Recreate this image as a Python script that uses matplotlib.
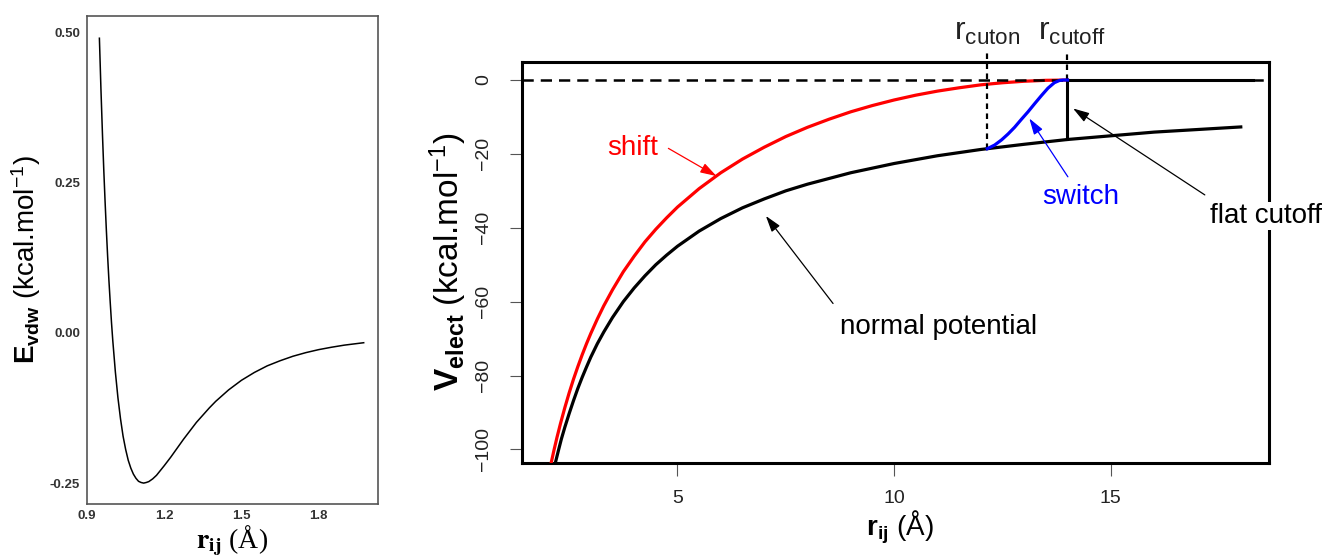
import matplotlib
matplotlib.use("Agg")
import matplotlib.pyplot as plt

plt.rcParams["font.family"] = ["Liberation Sans", "DejaVu Sans"]
plt.rcParams["mathtext.fontset"] = "custom"
plt.rcParams["mathtext.rm"] = "Liberation Sans"
plt.rcParams["mathtext.bf"] = "Liberation Sans:bold"
plt.rcParams["mathtext.it"] = "Liberation Sans:italic"

# --- left panel: van der Waals energy ---
r_vdw = [0.948, 0.954, 0.96, 0.965, 0.97, 0.975, 0.98, 0.985, 0.99, 0.995,
         1.00, 1.01, 1.02, 1.03, 1.04, 1.05, 1.06, 1.07, 1.08, 1.09, 1.10,
         1.11, 1.12, 1.13, 1.14, 1.155, 1.17, 1.185, 1.20, 1.225, 1.25,
         1.275, 1.30, 1.325, 1.35, 1.375, 1.40, 1.45, 1.50, 1.55, 1.60,
         1.65, 1.70, 1.75, 1.80, 1.85, 1.90, 1.975]
e_vdw = [0.49, 0.405, 0.329, 0.271, 0.219, 0.171, 0.127, 0.087, 0.051,
         0.017, -0.013, -0.065, -0.108, -0.143, -0.172, -0.194, -0.212,
         -0.225, -0.235, -0.242, -0.247, -0.249, -0.250, -0.249, -0.2475,
         -0.243, -0.237, -0.229, -0.221, -0.207, -0.192, -0.177, -0.163,
         -0.149, -0.137, -0.125, -0.114, -0.095, -0.079, -0.066, -0.055,
         -0.0465, -0.039, -0.033, -0.028, -0.024, -0.0205, -0.0165]

# --- right panel: electrostatics ---
r_norm = [2.18, 2.25, 2.32, 2.4, 2.5, 2.6, 2.7, 2.8, 2.9, 3.0, 3.15, 3.3,
          3.5, 3.75, 4.0, 4.25, 4.5, 4.75, 5.0, 5.5, 6.0, 6.5, 7.0, 7.5,
          8.0, 9.0, 10.0, 11.0, 12.0, 13.0, 14.0, 15.0, 16.0, 17.0, 18.0]
v_norm = [-103.7, -100.4, -97.2, -94.0, -90.3, -86.8, -83.5, -80.5, -77.7,
          -75.0, -71.4, -68.2, -64.3, -60.0, -56.3, -53.0, -50.0, -47.4,
          -45.0, -40.9, -37.5, -34.6, -32.2, -30.0, -28.2, -25.1, -22.6,
          -20.5, -18.8, -17.4, -16.1, -15.1, -14.1, -13.4, -12.7]

r_shift = [2.08, 2.15, 2.22, 2.3, 2.4, 2.5, 2.6, 2.7, 2.8, 2.9, 3.0, 3.15,
           3.3, 3.5, 3.75, 4.0, 4.25, 4.5, 4.75, 5.0, 5.5, 6.0, 6.5, 7.0,
           7.5, 8.0, 8.5, 9.0, 9.5, 10.0, 10.5, 11.0, 11.5, 12.0, 12.5,
           13.0, 13.5, 14.0]
v_shift = [-103.9, -100.2, -96.7, -93.0, -88.7, -84.7, -81.0, -77.6, -74.4,
           -71.4, -68.6, -64.7, -61.1, -56.8, -51.9, -47.7, -43.8, -40.4,
           -37.3, -34.4, -29.4, -25.1, -21.4, -18.2, -15.3, -12.8, -10.6,
           -8.6, -6.9, -5.4, -4.1, -3.0, -2.1, -1.3, -0.74, -0.33, -0.08,
           0.0]

r_switch = [12.15, 12.32, 12.48, 12.63, 12.78, 12.94, 13.09, 13.25, 13.40,
            13.55, 13.70, 13.82, 13.90, 14.0]
v_switch = [-18.6, -17.6, -16.2, -14.6, -12.8, -10.6, -8.6, -6.3, -4.2,
            -2.2, -0.7, -0.1, 0.0, 0.0]

r_cuton = 12.15
r_cutoff = 14.0
v_at_cuton = -18.6
v_at_cutoff = -16.1
r_flat_end = 18.28

fig = plt.figure(figsize=(13.29, 5.59), dpi=100)

# left panel
ax1 = fig.add_axes([0.0655, 0.0975, 0.2190, 0.8739])
ax1.plot(r_vdw, e_vdw, color="black", lw=1.1)
ax1.set_xlim(0.9, 2.031)
ax1.set_ylim(-0.2856, 0.527)
ax1.set_xticks([0.9, 1.2, 1.5, 1.8])
ax1.set_xticklabels(["0.9", "1.2", "1.5", "1.8"])
ax1.set_yticks([-0.25, 0.0, 0.25, 0.5])
ax1.set_yticklabels(["-0.25", "0.00", "0.25", "0.50"])
ax1.tick_params(length=0, labelsize=9.5, labelcolor="#333333")
ax1.tick_params(axis="y", pad=5)
ax1.tick_params(axis="x", pad=4)
for lab in ax1.get_xticklabels() + ax1.get_yticklabels():
    lab.set_fontweight("bold")
for sp in ax1.spines.values():
    sp.set_color("#555555")
    sp.set_linewidth(1.2)

fig.text(0.0196, 0.535, r"$\mathbf{E}_{\mathbf{vdw}}$ (kcal.mol$^{-1}$)",
         rotation=90, ha="center", va="center", fontsize=20)
fig.text(0.1746, 0.032, r"$\mathbf{r}_{\mathbf{ij}}$ (Å)", ha="center",
         va="center", fontsize=20, family="Liberation Serif",
         math_fontfamily="stix")

# right panel
ax2 = fig.add_axes([0.3925, 0.1710, 0.5623, 0.7186])
ax2.set_xlim(1.403, 18.65)
ax2.set_ylim(-103.8, 4.96)
ax2.plot(r_norm, v_norm, color="black", lw=2.3, zorder=3)
ax2.plot(r_shift, v_shift, color="#ff0000", lw=2.3, zorder=3)
ax2.axhline(0, color="black", lw=1.8, linestyle=(0, (4.5, 2.8)), zorder=4)
ax2.plot([r_cutoff, r_flat_end], [0, 0], color="black", lw=2.2, zorder=4)
ax2.plot([r_cutoff, r_cutoff], [v_at_cutoff, 0], color="black", lw=2.2,
         zorder=4)
ax2.plot(r_switch, v_switch, color="#0000ff", lw=2.3, zorder=5)
ax2.plot([r_cuton, r_cuton], [v_at_cuton, 8.1], color="black", lw=1.6,
         linestyle=(0, (2.5, 2.0)), clip_on=False, zorder=4)
ax2.plot([r_cutoff, r_cutoff], [0, 8.1], color="black", lw=1.6,
         linestyle=(0, (2.5, 2.0)), clip_on=False, zorder=4)

ax2.set_xticks([5, 10, 15])
ax2.set_yticks([0, -20, -40, -60, -80, -100])
ax2.tick_params(direction="out", length=9, width=0.8, color="#555555",
                labelsize=14, labelcolor="#222222")
ax2.tick_params(axis="x", pad=10)
ax2.tick_params(axis="y", pad=12)
for lab in ax2.get_yticklabels():
    lab.set_rotation(90)
    lab.set_va("center")
    lab.set_ha("right")
for sp in ax2.spines.values():
    sp.set_color("black")
    sp.set_linewidth(2.2)

fig.text(0.3371, 0.531, r"$\mathbf{V}_{\mathbf{elect}}$ (kcal.mol$^{-1}$)",
         rotation=90, ha="center", va="center", fontsize=24)
fig.text(0.6772, 0.057, r"$\mathbf{r}_{\mathbf{ij}}$ (Å)", ha="center",
         va="center", fontsize=20)

# cut-on / cut-off labels
ax2.text(r_cuton, 10.8, r"r$_{\mathrm{cuton}}$", ha="center", va="baseline",
         fontsize=23, color="#222222")
ax2.text(r_cutoff + 0.1, 10.8, r"r$_{\mathrm{cutoff}}$", ha="center",
         va="baseline", fontsize=23, color="#222222")

# annotations
arrow = dict(arrowstyle="-|>,head_length=0.7,head_width=0.22", lw=0.9,
             shrinkA=0, shrinkB=0, mutation_scale=14)
ax2.text(3.96, -18.4, "shift", color="#ff0000", fontsize=20, ha="center",
         va="center")
ax2.annotate("", xy=(5.90, -26.0), xytext=(4.79, -18.5),
             arrowprops=dict(arrow, color="#ff0000"))
ax2.text(11.03, -66.8, "normal potential", color="black", fontsize=20,
         ha="center", va="center")
ax2.annotate("", xy=(7.04, -36.8), xytext=(8.59, -60.5),
             arrowprops=dict(arrow, color="black"))
ax2.text(14.30, -31.8, "switch", color="#0000ff", fontsize=20, ha="center",
         va="center")
ax2.annotate("", xy=(13.12, -10.4), xytext=(14.01, -26.2),
             arrowprops=dict(arrow, color="#0000ff"))
ax2.text(18.59, -36.8, "flat cutoff", color="black", fontsize=20,
         ha="center", va="center", zorder=6,
         bbox=dict(facecolor="white", edgecolor="none", pad=1))
ax2.annotate("", xy=(14.13, -7.7), xytext=(17.17, -31.1),
             arrowprops=dict(arrow, color="black"))

fig.savefig("out.png", dpi=100)
